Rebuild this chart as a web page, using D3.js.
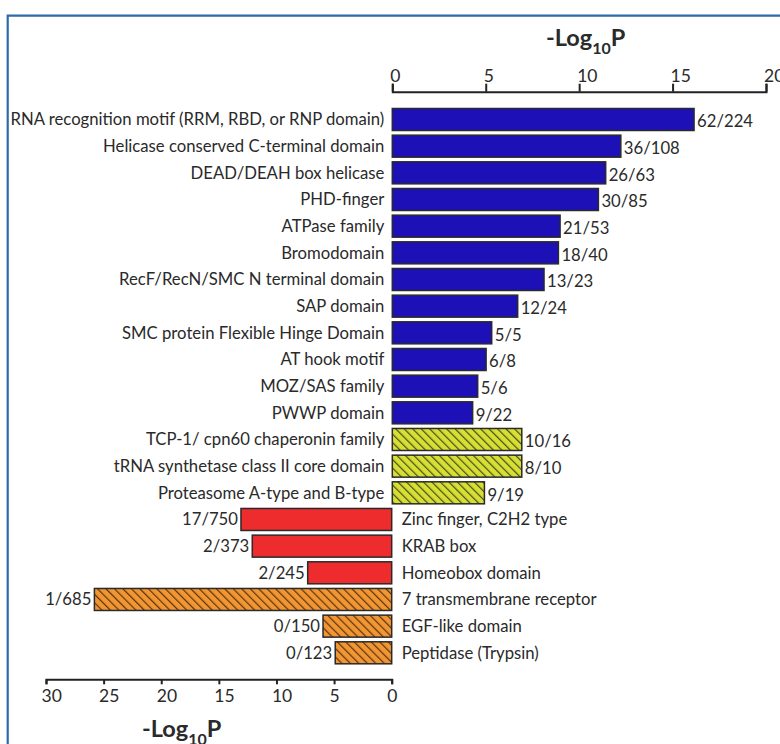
<!DOCTYPE html>
<html>
<head>
<meta charset="utf-8">
<script src="https://cdn.jsdelivr.net/npm/d3@7"></script>
<style>
  body { margin: 0; background: #fff; }
  svg text { font-family: Lato, "Open Sans", sans-serif; fill: #2a2a2a; }
</style>
</head>
<body>
<div id="chart"></div>
<script>
// enriched domains (top axis)
const topCategories = [
  'RNA recognition motif (RRM, RBD, or RNP domain)',
  'Helicase conserved C-terminal domain',
  'DEAD/DEAH box helicase',
  'PHD-finger',
  'ATPase family',
  'Bromodomain',
  'RecF/RecN/SMC N terminal domain',
  'SAP domain',
  'SMC protein Flexible Hinge Domain',
  'AT hook motif',
  'MOZ/SAS family',
  'PWWP domain',
  'TCP-1/ cpn60 chaperonin family',
  'tRNA synthetase class II core domain',
  'Proteasome A-type and B-type'
];
const topValues = [16.15, 12.23, 11.42, 11.03, 8.98, 8.89, 8.12, 6.71, 5.32, 5.02, 4.57, 4.30, 6.93, 6.93, 4.93];
const topCounts = ['62/224', '36/108', '26/63', '30/85', '21/53', '18/40', '13/23', '12/24', '5/5', '6/8', '5/6', '9/22', '10/16', '8/10', '9/19'];
const topKinds = ['blue', 'blue', 'blue', 'blue', 'blue', 'blue', 'blue', 'blue', 'blue', 'blue', 'blue', 'blue', 'yellow', 'yellow', 'yellow'];

// depleted domains (bottom axis)
const bottomCategories = [
  'Zinc finger, C2H2 type',
  'KRAB box',
  'Homeobox domain',
  '7 transmembrane receptor',
  'EGF-like domain',
  'Peptidase (Trypsin)'
];
const bottomValues = [13.08, 12.1, 7.29, 25.8, 5.96, 4.9];
const bottomCounts = ['17/750', '2/373', '2/245', '1/685', '0/150', '0/123'];
const bottomKinds = ['red', 'red', 'red', 'orange', 'orange', 'orange'];

const topTicks = [0, 5, 10, 15, 20];
const bottomTicks = [0, 5, 10, 15, 20, 25, 30];

const width = 780, height = 744;
const labelSize = '16.7px';

const svg = d3.select('#chart').append('svg')
  .attr('width', width)
  .attr('height', height);

// hatch patterns
const defs = svg.append('defs');
function hatch(id, bg, line) {
  const p = defs.append('pattern')
    .attr('id', id)
    .attr('patternUnits', 'userSpaceOnUse')
    .attr('width', 6)
    .attr('height', 6)
    .attr('patternTransform', 'rotate(-45)');
  p.append('rect').attr('width', 6).attr('height', 6).attr('fill', bg);
  p.append('line')
    .attr('x1', 0).attr('y1', 0).attr('x2', 0).attr('y2', 6)
    .attr('stroke', line)
    .attr('stroke-width', 2.4);
}
hatch('hatch-yellow', '#d6df33', '#4a4a1a');
hatch('hatch-orange', '#f19632', '#5a3410');

const fills = {
  blue: '#1c10b6',
  yellow: 'url(#hatch-yellow)',
  red: '#ee2b2d',
  orange: 'url(#hatch-orange)'
};

// frame
svg.append('path')
  .attr('d', `M${width},15.7 H7.7 V${height}`)
  .attr('fill', 'none')
  .attr('stroke', '#2d6aac')
  .attr('stroke-width', 2.2);

// scales
const xTop = d3.scaleLinear().domain([0, 20]).range([392.3, 766]);
const xBottom = d3.scaleLinear().domain([0, 30]).range([391.7, 46]);
const y = d3.scalePoint()
  .domain(topCategories.concat(bottomCategories))
  .range([119.5, 652.8]);
const barH = 22;

// top axis
const gTop = svg.append('g')
  .attr('transform', 'translate(0,91.7)')
  .call(d3.axisTop(xTop)
    .tickValues(topTicks)
    .tickSize(8)
    .tickSizeOuter(8)
    .tickPadding(2)
    .tickFormat(d3.format('d')));
gTop.select('.domain').attr('stroke', '#222').attr('stroke-width', 2);
gTop.selectAll('.tick line').attr('stroke', '#222').attr('stroke-width', 2);
gTop.selectAll('.tick text')
  .attr('text-anchor', 'start')
  .attr('dx', -2.5)
  .style('font-size', '17.5px')
  .style('font-family', 'Lato, sans-serif')
  .attr('fill', '#2a2a2a');

// bottom axis
const gBottom = svg.append('g')
  .attr('transform', 'translate(0,679.3)')
  .call(d3.axisBottom(xBottom)
    .tickValues(bottomTicks)
    .tickSize(5)
    .tickSizeOuter(5)
    .tickPadding(5)
    .tickFormat(d3.format('d')));
gBottom.select('.domain').attr('stroke', '#222').attr('stroke-width', 2);
gBottom.selectAll('.tick line').attr('stroke', '#222').attr('stroke-width', 2);
gBottom.selectAll('.tick text')
  .attr('text-anchor', 'start')
  .attr('dx', -5)
  .style('font-size', '17.5px')
  .style('font-family', 'Lato, sans-serif')
  .attr('fill', '#2a2a2a');

// axis titles
function title(x, yBase) {
  const t = svg.append('text')
    .attr('x', x)
    .attr('y', yBase)
    .style('font-size', '23.5px')
    .style('font-weight', 'bold')
    .attr('fill', '#1a1a1a');
  t.append('tspan').text('-Log');
  t.append('tspan').attr('dy', 8).style('font-size', '16px').text('10');
  t.append('tspan').attr('dy', -8).text('P');
}
title(546, 46);
title(142, 737);

const topData = topCategories.map((c, i) => ({ c, v: topValues[i], n: topCounts[i], k: topKinds[i] }));
const bottomData = bottomCategories.map((c, i) => ({ c, v: bottomValues[i], n: bottomCounts[i], k: bottomKinds[i] }));

// top bars
svg.append('g').selectAll('rect')
  .data(topData)
  .enter()
  .append('rect')
  .attr('x', xTop(0))
  .attr('y', d => y(d.c) - barH / 2)
  .attr('width', d => xTop(d.v) - xTop(0))
  .attr('height', barH)
  .attr('fill', d => fills[d.k])
  .attr('stroke', '#2a2a2a')
  .attr('stroke-width', 1.5);

svg.append('g').selectAll('text')
  .data(topData)
  .enter()
  .append('text')
  .attr('x', xTop(0) - 8)
  .attr('y', d => y(d.c))
  .attr('dy', '0.35em')
  .attr('text-anchor', 'end')
  .style('font-size', labelSize)
  .text(d => d.c);

svg.append('g').selectAll('text')
  .data(topData)
  .enter()
  .append('text')
  .attr('x', d => xTop(d.v) + 3)
  .attr('y', d => y(d.c) + 2)
  .attr('dy', '0.35em')
  .style('font-size', labelSize)
  .text(d => d.n);

// bottom bars
svg.append('g').selectAll('rect')
  .data(bottomData)
  .enter()
  .append('rect')
  .attr('x', d => xBottom(d.v))
  .attr('y', d => y(d.c) - barH / 2)
  .attr('width', d => xBottom(0) - xBottom(d.v))
  .attr('height', barH)
  .attr('fill', d => fills[d.k])
  .attr('stroke', '#2a2a2a')
  .attr('stroke-width', 1.5);

svg.append('g').selectAll('text')
  .data(bottomData)
  .enter()
  .append('text')
  .attr('x', xBottom(0) + 10)
  .attr('y', d => y(d.c))
  .attr('dy', '0.35em')
  .style('font-size', labelSize)
  .text(d => d.c);

svg.append('g').selectAll('text')
  .data(bottomData)
  .enter()
  .append('text')
  .attr('x', d => xBottom(d.v) - 3)
  .attr('y', d => y(d.c))
  .attr('dy', '0.35em')
  .attr('text-anchor', 'end')
  .style('font-size', labelSize)
  .text(d => d.n);
</script>
</body>
</html>
